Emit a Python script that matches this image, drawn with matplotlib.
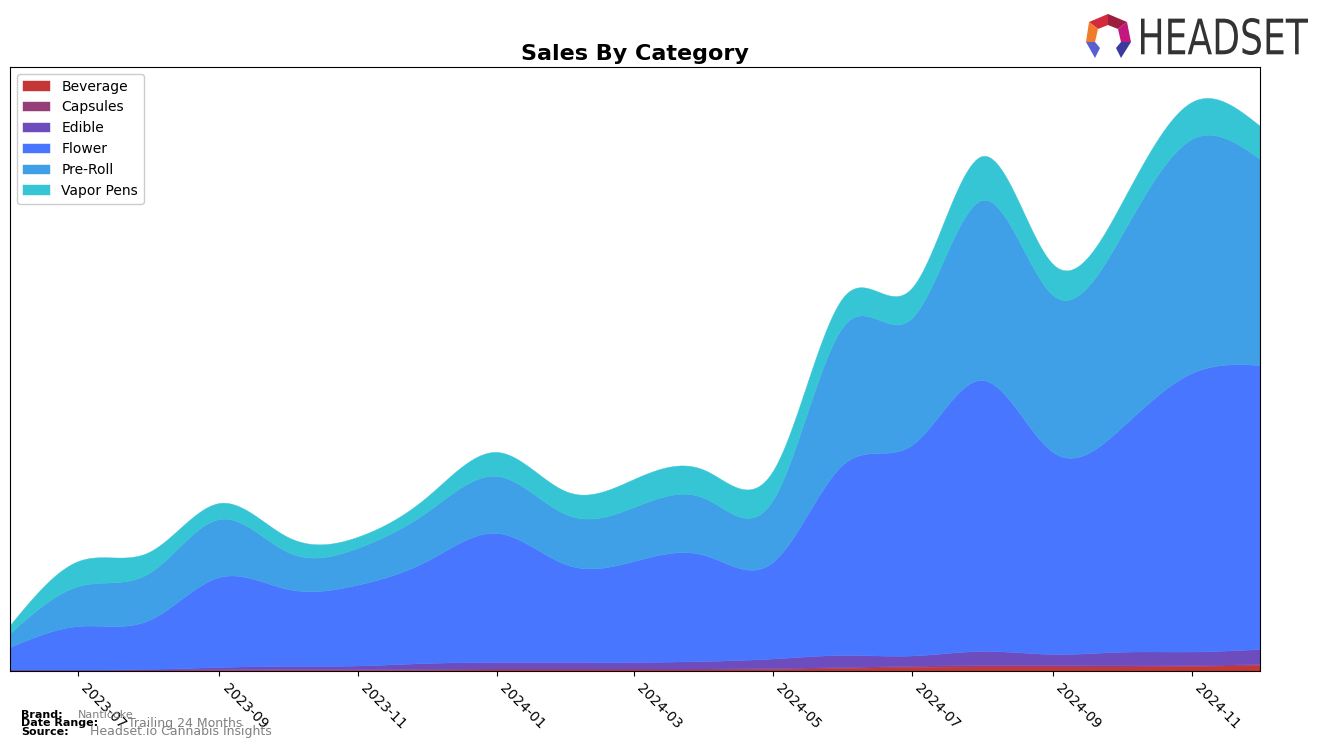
import numpy as np
import pandas as pd
import matplotlib
matplotlib.use("Agg")
import matplotlib.pyplot as plt
import matplotlib.dates as mdates
from matplotlib.patches import Polygon, PathPatch
from matplotlib.textpath import TextPath
from matplotlib.font_manager import FontProperties
from matplotlib.transforms import Affine2D

# ---- data (monthly, relative sales units) ----
months = pd.date_range("2023-06-01", "2024-12-01", freq="MS")
categories = ["Beverage", "Capsules", "Edible", "Flower", "Pre-Roll", "Vapor Pens"]
beverage = [0.5, 0.5, 0.5, 0.8, 1.0, 1.0, 1.2, 1.5, 1.5, 1.5, 1.5, 2.0, 3.0, 4.0, 4.5, 4.5, 4.5, 5.0, 6.0]
capsules = [1.0, 1.0, 1.0, 1.0, 1.0, 1.0, 1.0, 1.0, 1.0, 1.0, 1.0, 1.0, 1.0, 1.2, 1.5, 1.5, 1.2, 1.0, 1.0]
edible = [0.0, 0.0, 0.5, 2.2, 3.0, 3.5, 5.8, 6.5, 6.5, 6.5, 7.5, 9.5, 12.0, 10.3, 14.0, 11.0, 13.5, 13.5, 15.0]
flower = [22.5, 43.5, 49.0, 90.0, 77.0, 81.0, 102.0, 129.0, 97.0, 101.0, 106.0, 96.5, 191.0, 210.5, 271.0, 202.0, 224.0, 278.5, 284.0]
preroll = [14.0, 40.0, 47.0, 58.0, 37.0, 37.0, 49.0, 57.0, 50.0, 54.0, 57.0, 62.0, 138.0, 127.0, 180.0, 157.0, 192.0, 234.0, 206.0]
vapor = [8.0, 25.0, 21.0, 16.0, 15.0, 11.0, 15.0, 24.0, 23.0, 28.0, 28.0, 29.0, 29.0, 30.0, 44.0, 31.0, 32.0, 37.0, 33.0]
colors = ["#c53636", "#963e78", "#6d4cbe", "#4876ff", "#3fa0e8", "#36c5d4"]

series = [beverage, capsules, edible, flower, preroll, vapor]


def natural_spline(x, y, xn):
    x = np.asarray(x, float)
    y = np.asarray(y, float)
    n = len(x)
    h = np.diff(x)
    A = np.zeros((n, n))
    b = np.zeros(n)
    A[0, 0] = 1
    A[-1, -1] = 1
    for i in range(1, n - 1):
        A[i, i - 1] = h[i - 1]
        A[i, i] = 2 * (h[i - 1] + h[i])
        A[i, i + 1] = h[i]
        b[i] = 6 * ((y[i + 1] - y[i]) / h[i] - (y[i] - y[i - 1]) / h[i - 1])
    M = np.linalg.solve(A, b)
    idx = np.clip(np.searchsorted(x, xn) - 1, 0, n - 2)
    x0, x1 = x[idx], x[idx + 1]
    hh = x1 - x0
    t0 = x1 - xn
    t1 = xn - x0
    return (M[idx] * t0 ** 3 / (6 * hh) + M[idx + 1] * t1 ** 3 / (6 * hh)
            + (y[idx] / hh - M[idx] * hh / 6) * t0
            + (y[idx + 1] / hh - M[idx + 1] * hh / 6) * t1)


xd = mdates.date2num(months.to_pydatetime())
xf = np.linspace(xd[0], xd[-1], 800)
smooth = [np.clip(natural_spline(xd, s, xf), 0, None) for s in series]

fig = plt.figure(figsize=(13.24, 7.48), dpi=100)
ax = fig.add_axes([10 / 1324, 1 - 671 / 748, 1250 / 1324, 604 / 748])
ax.stackplot(xf, *smooth, labels=categories, colors=colors, linewidth=0.3, edgecolor="face")
ax.set_xlim(xd[0], xd[-1])
ax.set_ylim(0, 604)
ax.set_yticks([])
ax.xaxis.set_major_locator(mdates.MonthLocator(bymonth=[1, 3, 5, 7, 9, 11]))
ax.xaxis.set_major_formatter(mdates.DateFormatter("%Y-%m"))
for lbl in ax.get_xticklabels():
    lbl.set_rotation(-45)
    lbl.set_ha("left")
    lbl.set_fontsize(10)
ax.set_title("Sales By Category", fontsize=16, fontweight="bold", pad=5)
ax.legend(loc="upper left", fontsize=10, framealpha=1)

# footer
fig.text(21 / 1324, 1 - 715 / 748, "Brand:", fontsize=8, fontweight="bold", va="center")
fig.text(21 / 1324, 1 - 723 / 748, "Date Range:", fontsize=8, fontweight="bold", va="center")
fig.text(21 / 1324, 1 - 732 / 748, "Source:", fontsize=8, fontweight="bold", va="center")
fig.text(78 / 1324, 1 - 715 / 748, "Nanticoke", fontsize=8, color="gray", va="center")
fig.text(128 / 1324, 1 - 723 / 748, "Trailing 24 Months", fontsize=9, color="gray", va="center")
fig.text(90 / 1324, 1 - 732 / 748, "Headset.io Cannabis Insights", fontsize=9, color="gray", va="center")

# logo (pixel-coordinate overlay, y pointing up)
lax = fig.add_axes([0, 0, 1, 1], zorder=5)
lax.set_xlim(0, 1324)
lax.set_ylim(0, 748)
lax.axis("off")
lax.patch.set_alpha(0)
polys = [
    ([(1089, 22), (1108, 14), (1108, 25), (1098, 29)], "#d42a3c"),
    ([(1108, 14), (1127, 22), (1118, 29), (1108, 25)], "#9c1d3e"),
    ([(1127, 22), (1131, 42), (1121, 42), (1118, 29)], "#c2177e"),
    ([(1089, 22), (1098, 29), (1095, 42), (1086, 42)], "#f07b2a"),
    ([(1086, 42), (1095, 42), (1100, 48), (1095, 58)], "#5a5fd0"),
    ([(1121, 42), (1131, 42), (1121, 58), (1116, 48)], "#3b3a9e"),
]
for pts, c in polys:
    lax.add_patch(Polygon([(px, 748 - py) for px, py in pts], closed=True, color=c, lw=0))

tp = TextPath((0, 0), "HEADSET", size=10, prop=FontProperties(family="DejaVu Sans"))
ext = tp.get_extents()
sx = (1308 - 1141) / ext.width
sy = (55 - 18) / ext.height
tr = Affine2D().translate(-ext.x0, -ext.y0).scale(sx, sy).translate(1141, 748 - 55)
lax.add_patch(PathPatch(tr.transform_path(tp), color="#333333", lw=0))

fig.savefig("out.png", dpi=100)
